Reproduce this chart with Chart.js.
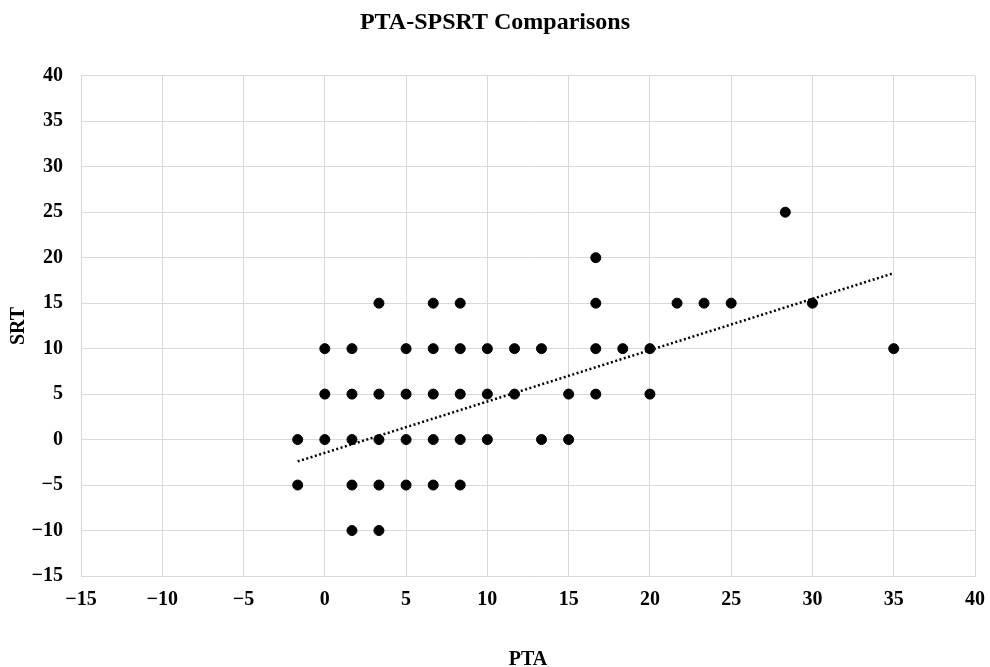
<!DOCTYPE html>
<html>
<head>
<meta charset="utf-8">
<script src="https://cdn.jsdelivr.net/npm/chart.js@4/dist/chart.umd.min.js"></script>
<style>
  html, body { margin: 0; padding: 0; background: #fff; }
  #wrap { width: 990px; height: 667px; }
</style>
</head>
<body>
<div id="wrap"><canvas id="myChart" width="990" height="667"></canvas></div>
<script>
// PTA (x) and SRT (y) for each subject
const pta = [
    16.67,
    28.33,
    3.33, 6.67, 8.33, 16.67, 21.67, 23.33, 25, 30,
    0, 1.67, 5, 6.67, 8.33, 10, 11.67, 13.33, 16.67, 18.33, 20, 35,
    0, 1.67, 3.33, 5, 6.67, 8.33, 10, 11.67, 15, 16.67, 20,
    -1.67, 0, 1.67, 3.33, 5, 6.67, 8.33, 10, 13.33, 15,
    -1.67, 1.67, 3.33, 5, 6.67, 8.33,
    1.67, 3.33
];
const srt = [
    20,
    25,
    15, 15, 15, 15, 15, 15, 15, 15,
    10, 10, 10, 10, 10, 10, 10, 10, 10, 10, 10, 10,
    5, 5, 5, 5, 5, 5, 5, 5, 5, 5, 5,
    0, 0, 0, 0, 0, 0, 0, 0, 0, 0,
    -5, -5, -5, -5, -5, -5,
    -10, -10
];

// linear trendline ends
const trendX = [-1.67, 35];
const trendY = [-2.4, 18.3];

const font = 'Liberation Serif, Times New Roman, serif';
const minus = v => String(v).replace('-', '\u2212');

const points = pta.map((x, i) => ({ x: x, y: srt[i] }));
const trend = trendX.map((x, i) => ({ x: x, y: trendY[i] }));

const config = {
    type: 'scatter',
    data: {
        datasets: [{
            label: 'SRT',
            data: points,
            backgroundColor: '#000',
            borderColor: '#000',
            pointRadius: 5,
            pointHoverRadius: 5,
            order: 1
        }, {
            label: 'Linear',
            type: 'line',
            data: trend,
            borderColor: '#000',
            borderWidth: 2.5,
            borderDash: [2, 2.5],
            pointRadius: 0,
            fill: false,
            order: 2
        }]
    },
    options: {
        responsive: false,
        animation: false,
        layout: { padding: { left: 0, right: 0, top: 0, bottom: 0 } },
        plugins: {
            legend: { display: false },
            tooltip: { enabled: false },
            title: {
                display: true,
                text: 'PTA-SPSRT Comparisons',
                color: '#000',
                font: { family: font, size: 24, weight: 'bold' },
                padding: { top: 8, bottom: 39 }
            }
        },
        scales: {
            x: {
                type: 'linear',
                min: -15,
                max: 40,
                ticks: {
                    stepSize: 5,
                    color: '#000',
                    padding: 12,
                    font: { family: font, size: 20, weight: 'bold' },
                    callback: minus
                },
                grid: { color: '#d9d9d9', drawTicks: false },
                border: { color: '#d9d9d9' },
                title: {
                    display: true,
                    text: 'PTA',
                    color: '#000',
                    font: { family: font, size: 20, weight: 'bold', lineHeight: 1 },
                    padding: { top: 0, bottom: -3 }
                },
                afterFit: s => {
                    s.height = 91;
                    s.paddingRight = 15;
                    s.paddingLeft = 0;
                }
            },
            y: {
                type: 'linear',
                min: -15,
                max: 40,
                ticks: {
                    stepSize: 5,
                    color: '#000',
                    padding: 18,
                    font: { family: font, size: 20, weight: 'bold' },
                    callback: minus
                },
                grid: { color: '#d9d9d9', drawTicks: false },
                border: { color: '#d9d9d9' },
                title: {
                    display: true,
                    text: 'SRT',
                    color: '#000',
                    font: { family: font, size: 20, weight: 'bold' },
                    padding: { top: 7, bottom: 0 }
                },
                afterFit: s => { s.width = 81; }
            }
        }
    }
};

const myChart = new Chart(document.getElementById('myChart'), config);
</script>
</body>
</html>
